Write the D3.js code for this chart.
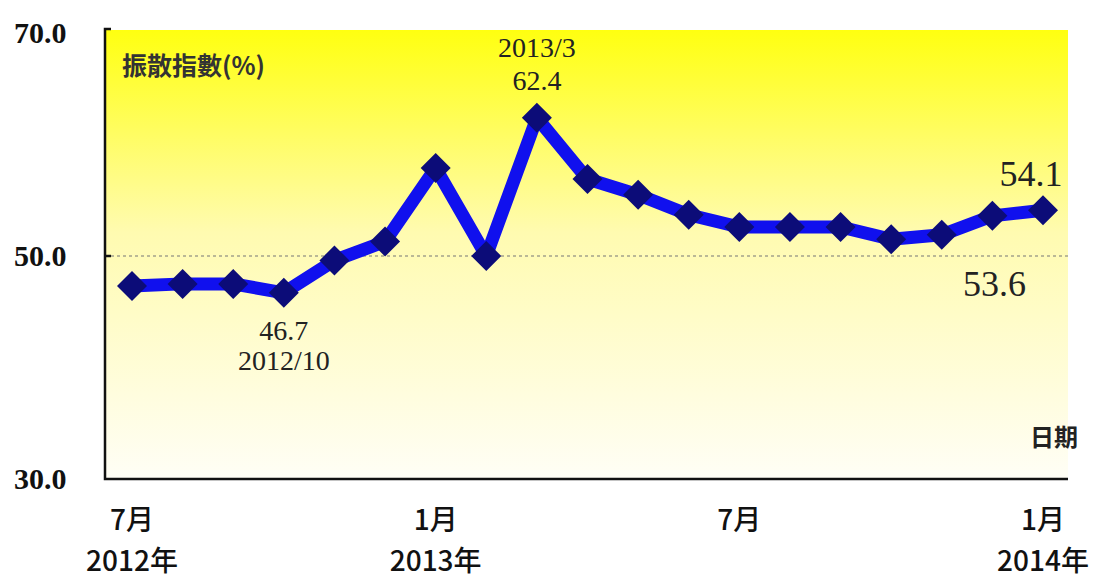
<!DOCTYPE html>
<html>
<head>
<meta charset="utf-8">
<script src="https://cdn.jsdelivr.net/npm/d3@7/dist/d3.min.js"></script>
<style>
  html, body { margin: 0; padding: 0; background: #fff; }
  svg { display: block; }
</style>
</head>
<body>
<svg id="chart" width="1096" height="581"></svg>
<script>
// Monthly diffusion index, 2012/7 – 2014/1
const months = ["2012/7","2012/8","2012/9","2012/10","2012/11","2012/12",
                "2013/1","2013/2","2013/3","2013/4","2013/5","2013/6",
                "2013/7","2013/8","2013/9","2013/10","2013/11","2013/12","2014/1"];
const values = [47.3, 47.5, 47.5, 46.7, 49.6, 51.3,
                57.9, 50.0, 62.4, 56.9, 55.5, 53.7,
                52.6, 52.6, 52.6, 51.5, 51.9, 53.6, 54.1];
const yTicks = [30, 50, 70];
const monthTicks = [
  { key: "2012/7", month: "7月", year: "2012年" },
  { key: "2013/1", month: "1月", year: "2013年" },
  { key: "2013/7", month: "7月", year: "" },
  { key: "2014/1", month: "1月", year: "2014年" }
];
const callouts = [
  { key: "2013/3",  lines: ["2013/3", "62.4"],  dy: [-61, -28], size: 28 },
  { key: "2012/10", lines: ["46.7", "2012/10"], dy: [47, 77],   size: 28 },
  { key: "2014/1",  lines: ["54.1"],            dy: [-24],      size: 36, dx: -12 },
  { key: "2013/12", lines: ["53.6"],            dy: [80],       size: 36, dx: 2 }
];

const svg = d3.select("#chart");
const plotLeft = 105, plotRight = 1068, plotTop = 30, plotBottom = 479;

const x = d3.scalePoint().domain(months).range([132, 1043]);
const y = d3.scaleLinear().domain([30, 70]).range([479, 33]);

// background gradient
const defs = svg.append("defs");
const grad = defs.append("linearGradient").attr("id", "bg")
  .attr("x1", 0).attr("y1", 0).attr("x2", 0).attr("y2", 1);
grad.append("stop").attr("offset", "0%").attr("stop-color", "#ffff10");
grad.append("stop").attr("offset", "45%").attr("stop-color", "#fffbb0");
grad.append("stop").attr("offset", "100%").attr("stop-color", "#fffef6");

svg.append("rect")
  .attr("x", plotLeft).attr("y", plotTop)
  .attr("width", plotRight - plotLeft).attr("height", plotBottom - plotTop)
  .attr("fill", "url(#bg)");

// 50 reference line
svg.append("line")
  .attr("x1", plotLeft).attr("x2", plotRight)
  .attr("y1", y(50)).attr("y2", y(50))
  .attr("stroke", "#777").attr("stroke-width", 1.2)
  .attr("stroke-dasharray", "3,3");

// axes
svg.append("path")
  .attr("d", `M${plotLeft + 6},${y(70) - 4}H${plotLeft}V${plotBottom}H${plotRight}`)
  .attr("fill", "none").attr("stroke", "#111").attr("stroke-width", 2.5);
svg.append("line")
  .attr("x1", plotLeft).attr("x2", plotLeft + 6)
  .attr("y1", y(50)).attr("y2", y(50))
  .attr("stroke", "#111").attr("stroke-width", 2.5);

// y tick labels
svg.selectAll(".ytick").data(yTicks).enter().append("text")
  .attr("x", 14).attr("y", d => y(d) + 10)
  .attr("font-family", "Liberation Serif, Times New Roman, serif")
  .attr("font-weight", "bold").attr("font-size", 30)
  .attr("fill", "#111")
  .text(d => d.toFixed(1));

// x tick labels
const xl = svg.append("g")
  .attr("font-family", "Noto Sans CJK TC, Noto Sans, sans-serif")
  .attr("font-weight", 500)
  .attr("font-size", 28).attr("fill", "#111").attr("text-anchor", "middle");
xl.selectAll(".m").data(monthTicks).enter().append("text")
  .attr("x", d => x(d.key)).attr("y", 530).text(d => d.month);
xl.selectAll(".yr").data(monthTicks.filter(d => d.year)).enter().append("text")
  .attr("x", d => x(d.key)).attr("y", 571).text(d => d.year);

// axis titles
svg.append("text")
  .attr("x", 122).attr("y", 75)
  .attr("font-family", "Noto Sans CJK TC, sans-serif")
  .attr("font-weight", "bold").attr("font-size", 25).attr("fill", "#333")
  .text("振散指數(%)");
svg.append("text")
  .attr("x", 1078).attr("y", 446).attr("text-anchor", "end")
  .attr("font-family", "Noto Sans CJK TC, sans-serif")
  .attr("font-weight", "bold").attr("font-size", 24).attr("fill", "#222")
  .text("日期");

// series line
const data = months.map((m, i) => ({ m, v: values[i] }));
svg.append("path")
  .datum(data)
  .attr("d", d3.line().x(d => x(d.m)).y(d => y(d.v)))
  .attr("fill", "none").attr("stroke", "#1010ee")
  .attr("stroke-width", 13).attr("stroke-linejoin", "round");

// diamond markers
svg.selectAll(".mk").data(data).enter().append("path")
  .attr("transform", d => `translate(${x(d.m)},${y(d.v)})`)
  .attr("d", "M0,-15L15,0L0,15L-15,0Z")
  .attr("fill", "#0c0c78");

// value callouts
const cg = svg.append("g")
  .attr("font-family", "Liberation Serif, Times New Roman, serif")
  .attr("fill", "#222").attr("text-anchor", "middle");
callouts.forEach(c => {
  const v = values[months.indexOf(c.key)];
  c.lines.forEach((t, i) => {
    cg.append("text")
      .attr("x", x(c.key) + (c.dx || 0))
      .attr("y", y(v) + c.dy[i])
      .attr("font-size", c.size)
      .text(t);
  });
});
</script>
</body>
</html>
